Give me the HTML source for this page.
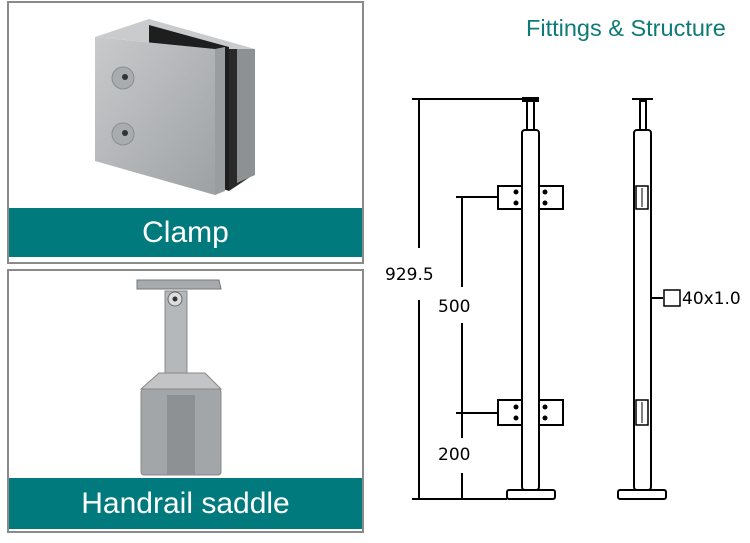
<!DOCTYPE html>
<html><head><style>
body{margin:0;width:750px;height:543px;background:#fff;overflow:hidden;font-family:"Liberation Sans",sans-serif;position:relative}
.p{position:absolute;left:7px;width:353px;border:2px solid #8a8a8a;background:#fff}
.band{position:absolute;left:0;right:0;background:#007a7c;color:#fff;text-align:center;font-size:30px}
</style></head><body>
<div class="p" style="top:1px;height:259px">
 <svg width="353" height="205" style="position:absolute;left:0;top:0">
  <defs><linearGradient id="g" x1="0" y1="0" x2="1" y2="1"><stop offset="0" stop-color="#c8cacc"/><stop offset="1" stop-color="#9ea1a4"/></linearGradient></defs>
  <polygon points="86,34 140,16 246,46 206,46" fill="#c9cbcd"/>
  <polygon points="140,22 220,44 220,188 140,160" fill="#1e1e1e"/>
  <polygon points="220,46 244,46 244,172 220,188" fill="#2a2a2a"/>
  <polygon points="228,46 246,46 246,172 228,180" fill="#8e9194"/>
  <polygon points="86,34 206,46 206,192 86,158" fill="url(#g)"/>
  <polygon points="206,46 216,44 216,188 206,192" fill="#9a9da0"/>
  <circle cx="114" cy="75" r="11" fill="#a9acaf" stroke="#8a8d90"/><circle cx="116" cy="74" r="3" fill="#333"/>
  <circle cx="114" cy="131" r="11" fill="#a9acaf" stroke="#8a8d90"/><circle cx="116" cy="130" r="3" fill="#333"/>
 </svg>
 <div class="band" style="top:205px;height:49px;line-height:49px">Clamp</div>
</div>
<div class="p" style="top:269px;height:260px">
 <svg width="353" height="210" style="position:absolute;left:0;top:0">
  <polygon points="128,9 210,9 212,18 128,18" fill="#a8abae" stroke="#777"/>
  <rect x="156" y="20" width="22" height="132" fill="#b5b8bb" stroke="#888"/>
  <circle cx="166" cy="28" r="7" fill="#ddd" stroke="#666"/><circle cx="166" cy="28" r="2.5" fill="#333"/>
  <polygon points="132,118 150,102 196,102 212,118" fill="#c2c4c6" stroke="#888"/>
  <rect x="132" y="118" width="80" height="86" rx="3" fill="#a3a6a9" stroke="#888"/>
  <rect x="158" y="124" width="28" height="80" fill="#8e9194"/>
 </svg>
 <div class="band" style="top:207px;height:51px;line-height:51px">Handrail saddle</div>
</div>
<div style="position:absolute;left:526px;top:15px;color:#0e7a78;font-size:23.5px">Fittings &amp; Structure</div>
<svg width="750" height="543" style="position:absolute;left:0;top:0" font-family="DejaVu Sans, sans-serif" font-size="17" fill="none" stroke="#000" stroke-width="2">
 <line x1="412" y1="99" x2="539" y2="99"/>
 <rect x="523" y="98" width="15" height="3" fill="#000"/>
 <rect x="527" y="101" width="7" height="29"/>
 <rect x="522" y="130" width="17" height="360" rx="3" fill="#fff"/>
 <rect x="507" y="490" width="48" height="9" rx="2" fill="#fff"/>
 <line x1="412" y1="499" x2="507" y2="499"/>
 <line x1="419" y1="99" x2="419" y2="248"/><line x1="419" y1="300" x2="419" y2="499"/>
 <line x1="462" y1="197" x2="462" y2="287"/><line x1="462" y1="323" x2="462" y2="438"/><line x1="462" y1="473" x2="462" y2="499"/>
 <line x1="456" y1="197" x2="498" y2="197"/><line x1="456" y1="413" x2="498" y2="413"/>
 <rect x="498" y="186" width="24" height="23" fill="#fff"/><rect x="539" y="186" width="24" height="23" fill="#fff"/>
 <rect x="498" y="400" width="24" height="25" fill="#fff"/><rect x="539" y="400" width="24" height="25" fill="#fff"/>
 <g fill="#000" stroke="none">
  <circle cx="516" cy="192" r="2.5"/><circle cx="516" cy="203" r="2.5"/><circle cx="545" cy="192" r="2.5"/><circle cx="545" cy="203" r="2.5"/>
  <circle cx="516" cy="407" r="2.5"/><circle cx="516" cy="418" r="2.5"/><circle cx="545" cy="407" r="2.5"/><circle cx="545" cy="418" r="2.5"/>
  <text x="385" y="280">929.5</text><text x="438" y="312">500</text><text x="438" y="460">200</text><text x="682" y="304">40x1.0</text>
 </g>
 <line x1="632" y1="99" x2="653" y2="99"/>
 <rect x="640" y="101" width="6" height="29"/>
 <rect x="634" y="130" width="17" height="360" rx="3" fill="#fff"/>
 <rect x="618" y="490" width="48" height="9" rx="2" fill="#fff"/>
 <rect x="636" y="186" width="12" height="23" stroke-width="1.5"/><line x1="642" y1="188" x2="642" y2="207" stroke-width="1"/>
 <rect x="636" y="400" width="12" height="25" stroke-width="1.5"/><line x1="642" y1="402" x2="642" y2="423" stroke-width="1"/>
 <line x1="651" y1="298" x2="663" y2="298"/>
 <rect x="664" y="290" width="16" height="16" stroke-width="1.5"/>
</svg>
</body></html>
